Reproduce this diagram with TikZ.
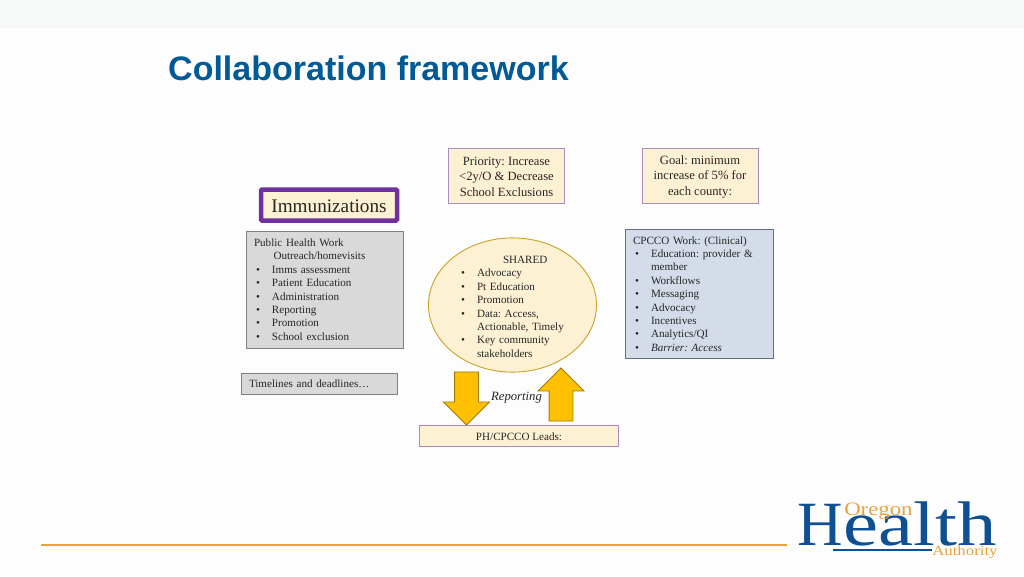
\documentclass[tikz,border=0pt]{standalone}
\usepackage{fontspec}
\setmainfont{Liberation Serif}
\newfontfamily\titlefont{Liberation Sans}
\usepackage{tikz}
\usetikzlibrary{shapes.geometric,shapes.arrows}

\definecolor{slidebg}{HTML}{FDFDFD}
\definecolor{bandgray}{HTML}{F7F8F8}
\definecolor{titleblue}{HTML}{005A96}
\definecolor{logoblue}{HTML}{0F4F93}
\definecolor{logoorange}{HTML}{E8A33D}
\definecolor{cream}{HTML}{FDF1D3}
\definecolor{softpurple}{HTML}{A98BBF}
\definecolor{strongpurple}{HTML}{7030A0}
\definecolor{workgray}{HTML}{D9D9D9}
\definecolor{workgrayline}{HTML}{7F7F7F}
\definecolor{workblue}{HTML}{D3DCE8}
\definecolor{workblueline}{HTML}{5F6F80}
\definecolor{ovalline}{HTML}{C9A227}
\definecolor{arrowfill}{HTML}{FFC000}
\definecolor{arrowline}{HTML}{9C7A00}

\newcommand{\blt}{\makebox[18pt][l]{\hspace{2pt}\textbullet}}
\newcommand{\nobl}{\hspace*{18pt}}

\tikzset{
    smalltext/.style={font=\frenchspacing\fontsize{11.1}{13.4}\selectfont,text=black!85},
    bigtext/.style={font=\frenchspacing\fontsize{12.6}{15.4}\selectfont,text=black!85,align=center},
    creambox/.style={shape=rectangle,draw=softpurple,fill=cream,line width=0.9pt,inner sep=0pt,outer sep=0pt},
    workbox/.style={shape=rectangle,smalltext,align=left,line width=0.9pt,inner sep=0pt,outer sep=0pt},
    blockarrow/.style={shape=single arrow,draw=arrowline,fill=arrowfill,line width=0.9pt,inner sep=11.5pt,outer sep=0pt,single arrow head extend=11pt},
}

\begin{document}
\begin{tikzpicture}[x=1pt,y=-1pt]
                \useasboundingbox (0,0) rectangle (1024,576);
                \fill[slidebg] (0,0) rectangle (1024,576);
                \fill[bandgray] (0,0) rectangle (1024,28);

                \node[anchor=west,inner sep=0pt,text=titleblue,font=\titlefont\bfseries\fontsize{34}{36}\selectfont] (title) at (168,68.5) {Collaboration framework};

                \node[creambox,draw=strongpurple,line width=4.5pt,rounded corners=1pt,minimum width=136pt,minimum height=31pt,font=\fontsize{19.2}{22}\selectfont,text=black!85] (immunizations) at (329,205) {\rule{0pt}{15pt}Immunizations};
                \node[creambox,bigtext,minimum width=116pt,minimum height=55pt] (priority) at (506.5,175.5) {\rule{0pt}{11pt}Priority: Increase\\{<}2y/O \& Decrease\\School Exclusions};
                \node[creambox,bigtext,minimum width=116pt,minimum height=55pt] (goal) at (700,175.5) {\rule{0pt}{11pt}Goal: minimum\\increase of 5\% for\\each county:};

                \node[workbox,draw=workgrayline,fill=workgray,minimum width=157pt,minimum height=117pt,text width=142pt] (phwork) at (325,289.5) {Public Health Work\\
                    \hspace*{19.5pt}Outreach/homevisits\\
                    \blt Imms assessment\\
                    \blt Patient Education\\
                    \blt Administration\\
                    \blt Reporting\\
                    \blt Promotion\\
                    \blt School exclusion};

                \node[workbox,draw=workblueline,fill=workblue,minimum width=148pt,minimum height=129pt,text width=133pt] (cpcco) at (699.5,294) {CPCCO Work: (Clinical)\\
                    \blt Education: provider \&\\
                    \nobl member\\
                    \blt Workflows\\
                    \blt Messaging\\
                    \blt Advocacy\\
                    \blt Incentives\\
                    \blt Analytics/QI\\
                    \blt \textit{Barrier: Access}};

                \node[shape=ellipse,draw=ovalline,fill=cream,line width=0.9pt,smalltext,align=left,inner xsep=0pt,inner ysep=-5pt,outer sep=0pt,minimum width=168pt,minimum height=133pt,text width=107pt] (shared) at (512.5,305) {\rule{0pt}{11pt}\hspace*{44pt}SHARED\\
                    \blt Advocacy\\
                    \blt Pt Education\\
                    \blt Promotion\\
                    \blt Data: Access,\\
                    \nobl Actionable, Timely\\
                    \blt Key community\\
                    \nobl stakeholders};

                \node[workbox,draw=workgrayline,fill=workgray,minimum width=156pt,minimum height=21pt,text width=141pt] (timelines) at (319.5,384) {Timelines and deadlines\dots};
                \node[creambox,smalltext,minimum width=199pt,minimum height=21pt] (leads) at (519,436) {\rule{0pt}{10pt}PH/CPCCO Leads:};

                \node[blockarrow,shape border rotate=270,minimum width=45pt,minimum height=53pt] (reportdown) at (466.5,392.5) {};
                \node[blockarrow,shape border rotate=90,minimum width=44pt,minimum height=53pt] (reportup) at (561,400.5) {};
                \node[inner sep=0pt,text=black!85,font=\itshape\fontsize{12.7}{15}\selectfont] (reporting) at (516.5,398) {Reporting};

                \coordinate (rulestart) at (41,544.5);
                \coordinate (ruleend) at (787,544.5);
                \draw[logoorange,line width=2pt] (rulestart) -- (ruleend);

                \node[inner sep=0pt,anchor=base west,text=logoblue,font=\fontsize{63}{65}\selectfont] (health) at (797,545) {H\hspace{1pt}\scalebox{1.25}[1]{ealth}};
                \node[inner sep=0pt,anchor=base west,text=logoorange,xscale=1.2,font=\fontsize{19}{20}\selectfont] (oregon) at (844,515) {Oregon};
                \node[inner sep=0pt,anchor=base west,text=logoorange,xscale=1.2,font=\fontsize{14}{15}\selectfont] (authority) at (932,555.5) {Authority};
                \coordinate (underlinestart) at (833,550);
                \draw[logoblue,line width=1.2pt] (underlinestart) -- (authority.west |- underlinestart);
            \end{tikzpicture}
\end{document}
